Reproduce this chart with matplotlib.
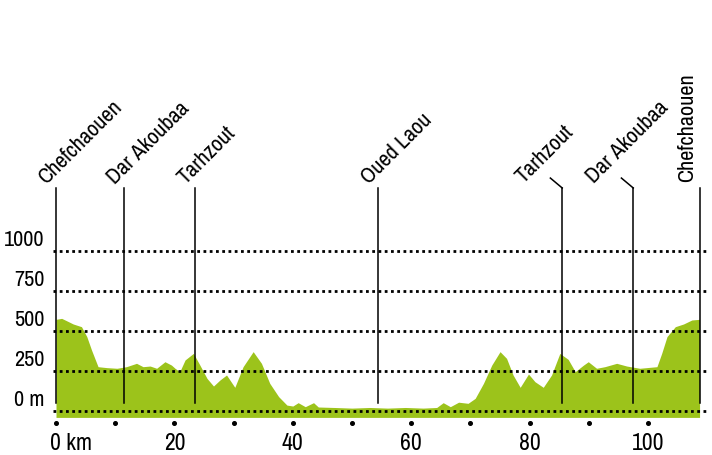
import matplotlib
matplotlib.use('Agg')
import matplotlib.pyplot as plt
from matplotlib import font_manager
import numpy as np

# elevation profile (km, m)
km = [0.0, 0.96, 1.8, 2.9, 4.3, 5.2, 6.0, 7.1, 8.6, 10.3, 11.9, 13.6, 14.7, 15.9,
      17.0, 18.4, 19.5, 20.1, 20.9, 21.8, 23.2, 24.3, 25.5, 26.6, 27.7, 28.8,
      30.2, 31.6, 33.3, 34.7, 36.1, 37.6, 39.0, 40.0, 40.9, 42.1, 43.5, 44.3,
      47.0, 50.0, 53.0, 56.0, 59.0, 62.0, 64.3, 65.4, 66.6, 68.0, 69.6, 70.8,
      72.2, 73.6, 75.0, 76.1, 77.2, 78.4, 79.8, 80.9, 82.3, 83.7, 85.1, 86.5,
      87.7, 89.1, 89.9, 91.3, 92.7, 94.7, 96.4, 98.6, 101.5, 102.3, 103.2,
      104.6, 106.0, 107.4, 108.7]
elev = [573, 579, 564, 544, 527, 465, 381, 277, 271, 267, 277, 298, 277, 281,
        267, 308, 287, 267, 246, 319, 360, 287, 204, 156, 194, 225,
        148, 277, 371, 298, 173, 90, 37, 31, 52, 27, 52, 25,
        22, 18, 22, 18, 22, 18, 22, 52, 27, 55, 48, 79,
        173, 287, 371, 329, 225, 148, 231, 183, 148, 225, 360, 323,
        246, 287, 308, 267, 277, 298, 281, 267, 277, 360, 465,
        527, 544, 569, 573]

places = ['Chefchaouen', 'Dar Akoubaa', 'Tarhzout', 'Oued Laou',
          'Tarhzout', 'Dar Akoubaa', 'Chefchaouen']
place_km = [0.0, 11.5, 23.5, 54.4, 85.5, 97.5, 108.8]

y_ticks = [0, 250, 500, 750, 1000]
y_labels = ['0 m', '250', '500', '750', '1000']
x_ticks = [0, 20, 40, 60, 80, 100]
x_labels = ['0 km', '20', '40', '60', '80', '100']

# look for a condensed face, the original uses a very narrow font
fp = None
scale = 1.0
for f in font_manager.fontManager.ttflist:
    if ('Narrow' in f.name or 'Condensed' in f.name) and f.style == 'normal' \
            and f.weight in (400, 'normal', 'regular'):
        fp = f.fname
        break
if fp is None:
    for f in font_manager.fontManager.ttflist:
        if f.name == 'DejaVu Sans' and f.stretch == 'condensed' and f.style == 'normal' \
                and f.weight in (400, 'normal', 'book'):
            fp = f.fname
            break
if fp is None:
    scale = 0.82


def font(size):
    if fp:
        return font_manager.FontProperties(fname=fp, size=size)
    return font_manager.FontProperties(family='DejaVu Sans', size=size * scale)


green = '#9cc31b'

fig = plt.figure(figsize=(7.12, 4.55), dpi=100)
ax = fig.add_axes([0, 0, 1, 1])
ax.set_xlim(-9.46, 110.8)
ax.set_ylim(-275, 2569)
ax.axis('off')

# profile
ax.fill_between(km, elev, -40, color=green, lw=0, zorder=1)

# dotted grid
for y in y_ticks:
    ax.plot([-0.5, 109.8], [y, y], color='black', lw=2.0,
            linestyle=(0, (1, 1.25)), zorder=3)

# tick dots and labels
ax.plot(np.arange(0, 101, 10), [-75] * 11, 'o', color='black', ms=2.6, zorder=3)
for x, lab in zip(x_ticks, x_labels):
    if x == 0:
        ax.text(x - 1.0, -205, lab, ha='left', va='center', fontproperties=font(17))
    else:
        ax.text(x, -205, lab, ha='center', va='center', fontproperties=font(17))
for y, lab in zip(y_ticks, y_labels):
    ax.text(-2.0, y + 68, lab, ha='right', va='center', fontproperties=font(16))

# place markers
top, bottom = 1394, 50
for i, (name, x) in enumerate(zip(places, place_km)):
    ax.plot([x, x], [bottom, top], color='black', lw=1.1, zorder=4)
    if i in (4, 5):
        ax.plot([x - 2.0, x], [1456, top], color='black', lw=1.1, zorder=4)
        ax.text(x - 6.6, 1420, name, rotation=45, rotation_mode='anchor',
                ha='left', va='baseline', fontproperties=font(16))
    elif i == 6:
        ax.text(x - 1.2, 1430, name, rotation=90, rotation_mode='anchor',
                ha='left', va='baseline', fontproperties=font(16))
    else:
        ax.text(x - 1.6, 1410, name, rotation=45, rotation_mode='anchor',
                ha='left', va='baseline', fontproperties=font(16))

fig.savefig('out.png', dpi=100, facecolor='white')
